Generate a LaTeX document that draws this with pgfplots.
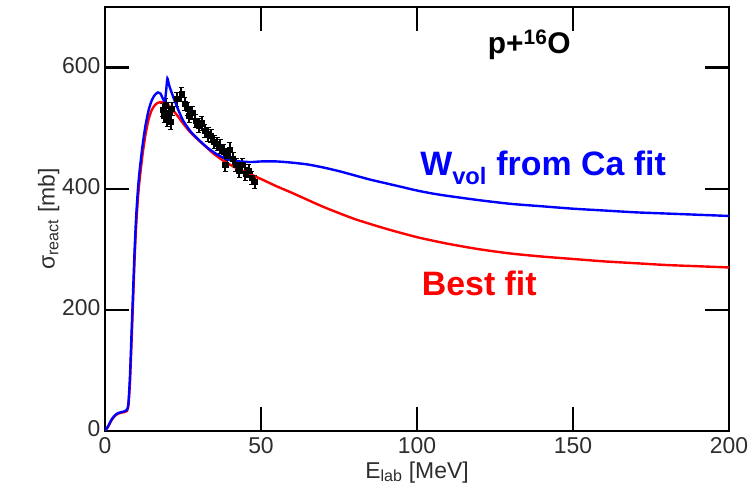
\documentclass[border=0pt]{standalone}
\usepackage{pgfplots}
\pgfplotsset{compat=1.18}
\usepackage{fontspec}
\setmainfont{Liberation Sans}
\definecolor{tickgray}{RGB}{45,45,45}
\begin{document}
\begin{tikzpicture}
\begin{axis}[
  scale only axis, width=624bp, height=424bp,
  xmin=0, xmax=200, ymin=0, ymax=700,
  xtick={0,50,100,150,200}, ytick={0,200,400,600},
  tick align=inside, major tick length=24bp,
  axis line style={line width=2.4bp},
  every tick/.style={black, line width=2.4bp},
  tick label style={font=\fontsize{23}{27}\selectfont, text=tickgray},
  xticklabel style={yshift=-3bp},
  yticklabel style={xshift=-1bp, yshift=2bp},
  label style={font=\fontsize{23}{27}\selectfont, text=tickgray},
  /pgf/number format/assume math mode=true,
  xlabel={E\textsubscript{lab} [MeV]},
  ylabel={σ\textsubscript{react} [mb]},
  xlabel style={yshift=-1bp},
  ylabel style={yshift=-4bp},
  clip=true,
]
% data
\addplot[only marks, mark=square*, mark size=2.6bp, black,
  error bars/.cd, y dir=both, y explicit, error bar style={line width=2bp, black}]
  table[x=E, y=s, y error=e] {
E s e
18.5 530 11
19.0 520 11
19.5 538 11
20.0 515 11
20.5 525 11
21.0 510 11
21.5 532 11
23.0 548 11
24.5 556 12
25.5 540 11
26.5 532 11
27.0 520 11
28.0 525 11
29.0 512 11
30.0 505 11
31.0 508 11
32.0 496 11
33.0 490 11
34.0 488 11
35.0 478 11
36.0 474 11
37.0 470 11
38.0 462 11
38.5 440 11
39.0 455 11
40.0 465 11
41.0 450 11
42.0 440 11
43.0 430 11
44.0 440 11
45.0 425 11
46.0 430 11
47.0 418 11
48.0 412 11
};
% best fit (red)
\addplot[red, line width=2.4bp, smooth, tension=0.4] coordinates {
(0,0) (1,7) (2,17) (3,24) (4,28) (5,30) (6,31) (7,33) (7.5,42) (8,80) (8.5,145) (9,215) (9.5,285) (10,340) (10.5,380) (11,410) (12,455) (13,490) (14,515) (15,530) (16,538) (17,542) (18,543) (19,542) (20.3,538) (23,522) (25,508) (27.2,494) (30,480) (32.6,468) (35,457) (38,446) (41,437) (44.3,429) (46.5,424) (50,416) (55,404) (60,393) (70,370) (80,350) (90,334) (100,320) (110,309) (120,300) (130,293) (140,288) (150,284) (160,280) (170,277) (180,274) (190,272) (200,270)
};
% W_vol from Ca fit (blue)
\addplot[blue, line width=2.4bp, smooth, tension=0.4] coordinates {
(0,0) (1,8) (2,18) (3,25) (4,29) (5,31) (6,32) (7,35) (7.5,45) (8,90) (8.5,160) (9,230) (9.5,300) (10,355) (10.5,395) (11,425) (12,470) (13,505) (14,530) (15,546) (16,555) (17,559) (17.8,557) (18.6,548) (19.2,545) (19.6,562) (20,582) (20.6,570) (21.9,551) (23.5,530) (25.1,512) (27.5,494) (30.4,479) (33,467) (35.8,457) (38.5,450) (41.1,446) (46.5,444) (50,445) (55,445) (60,443) (65,440) (70,435) (75,429) (80,422) (85,415) (90,409) (95,403) (100,397) (105,392) (110,388) (120,381) (130,375) (140,371) (150,367) (160,364) (170,361) (180,359) (190,357) (200,355)
};
\node[anchor=base, font=\fontsize{30}{34}\selectfont\bfseries, black] at (axis cs:136,623) {p+\textsuperscript{16}O};
\node[anchor=base west, font=\fontsize{34}{38}\selectfont\bfseries, blue, inner sep=0pt] at (axis cs:101,421) {W\textsubscript{vol} from Ca fit};
\node[anchor=base west, font=\fontsize{34}{38}\selectfont\bfseries, red, inner sep=0pt] at (axis cs:101.5,223) {Best fit};
\end{axis}
\path (current axis.south west) ++(-105bp,-67bp) coordinate (bbA);
\path (current axis.north east) ++(24bp,7bp) coordinate (bbB);
\path (bbA) rectangle (bbB);
\end{tikzpicture}
\end{document}
